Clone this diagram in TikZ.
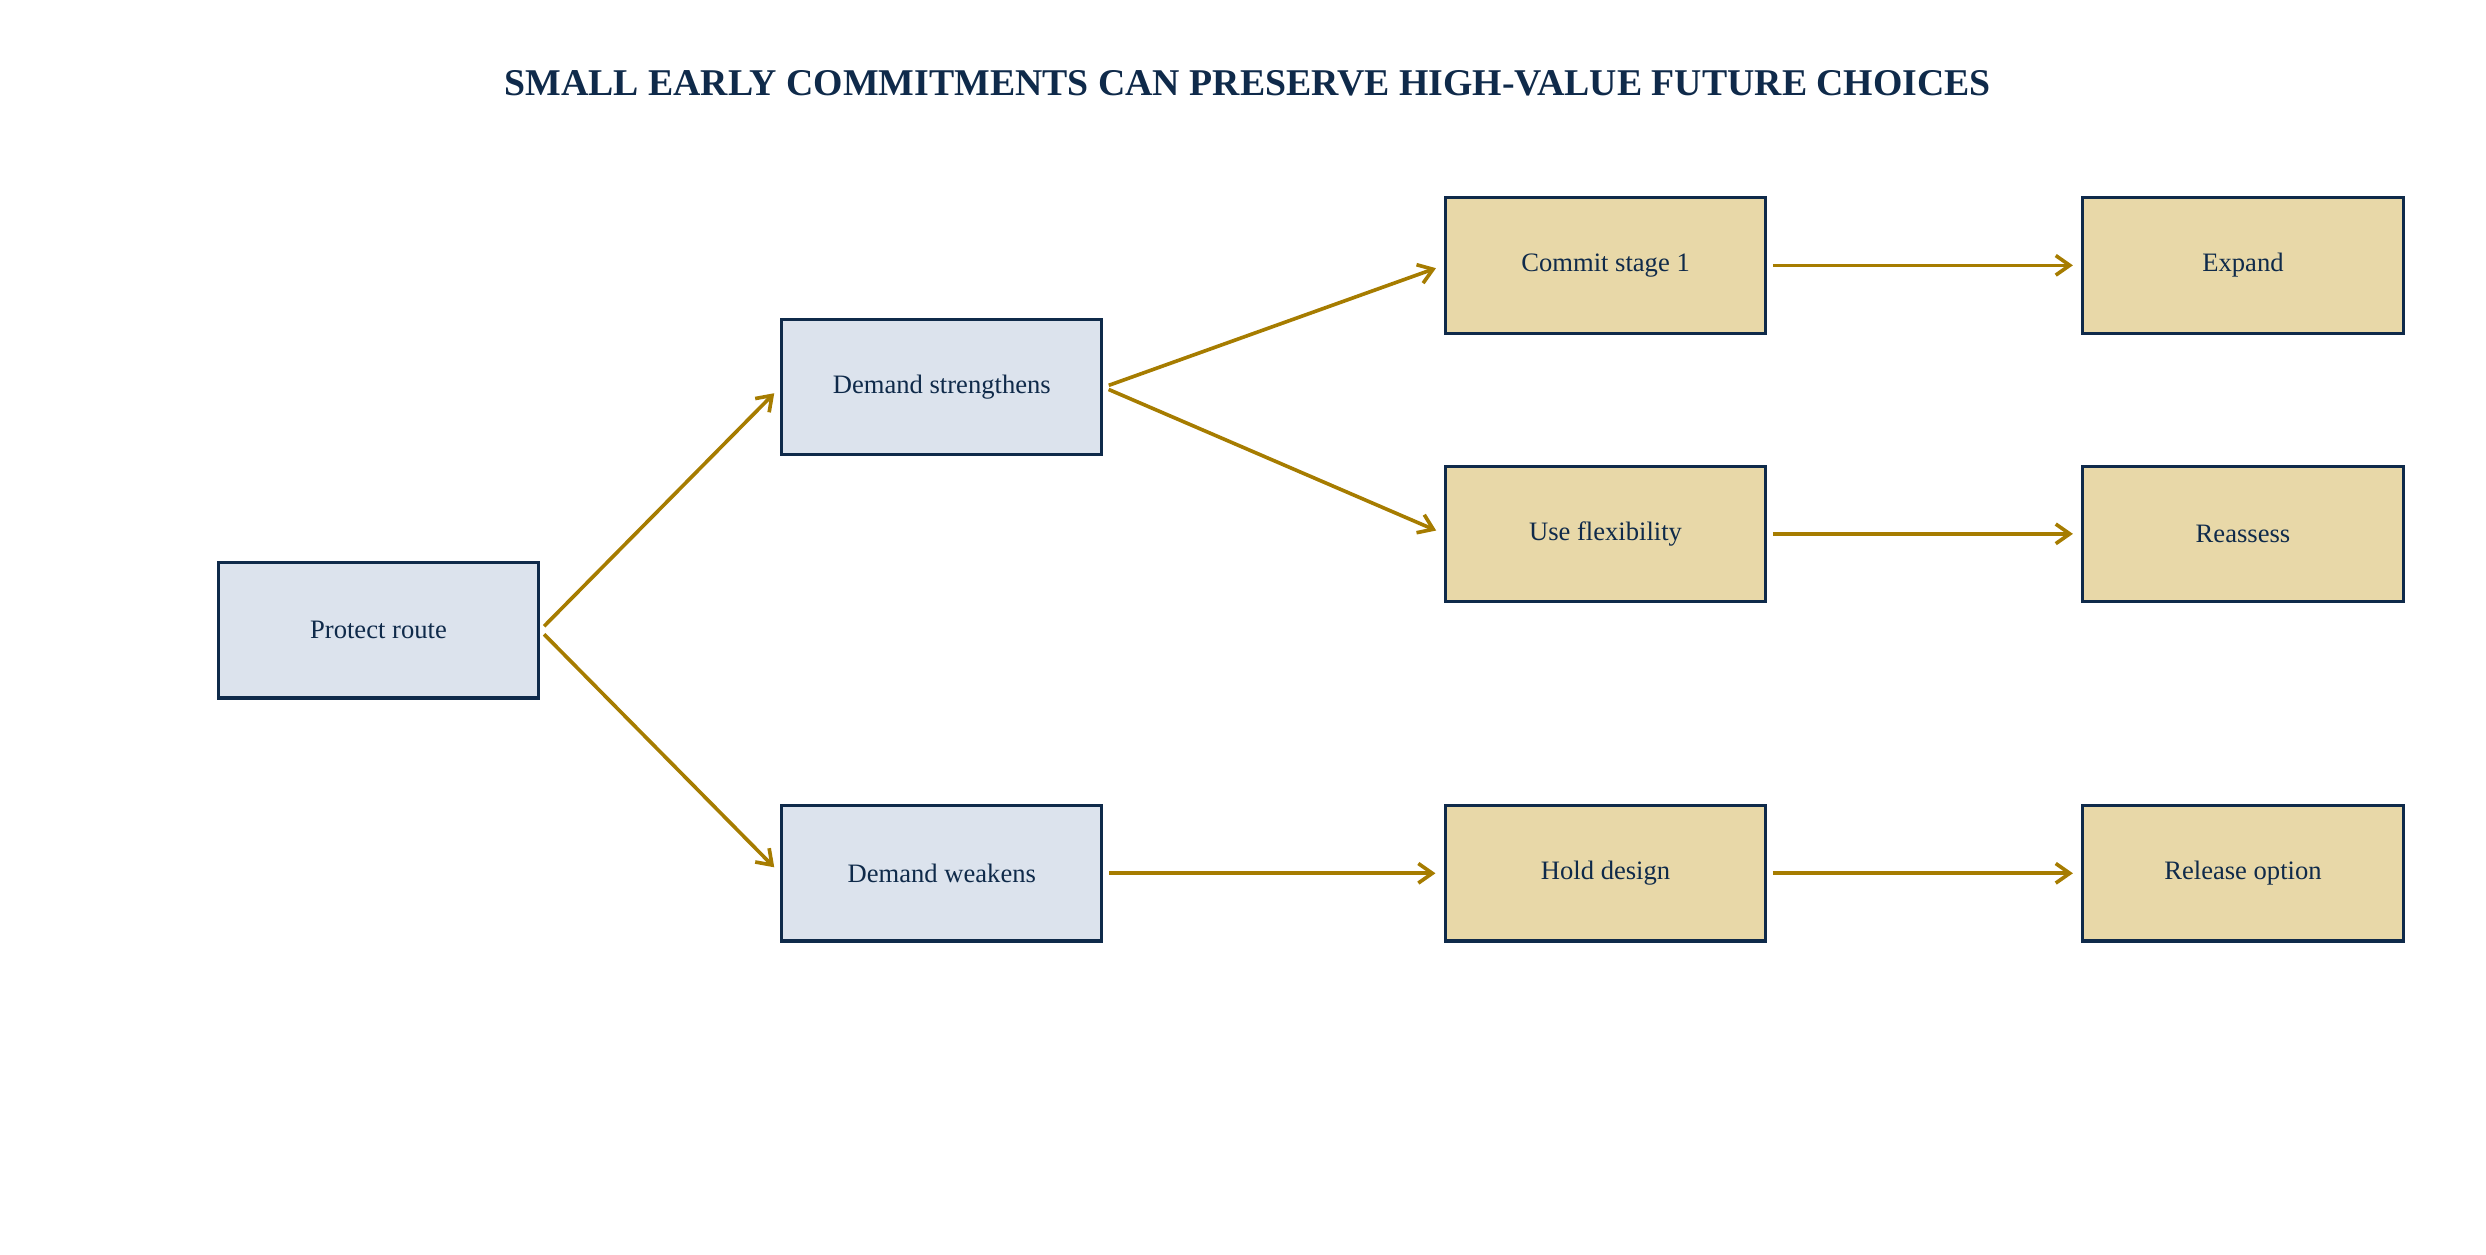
\documentclass[tikz,border=0pt]{standalone}
\usepackage{fontspec}
\setmainfont{Liberation Serif}
\usetikzlibrary{arrows.meta}
\definecolor{navy}{HTML}{0F2A4A}
\definecolor{bluefill}{HTML}{DCE3ED}
\definecolor{tanfill}{HTML}{E8D8A8}
\definecolor{gold}{HTML}{A67C00}
\begin{document}
\begin{tikzpicture}[x=0.02cm,y=-0.02cm,
  box/.style={draw=navy,line width=1.1pt,minimum width=4.02cm,minimum height=1.7cm,inner sep=0pt,text=navy,font=\fontsize{9.5}{11}\selectfont},
  st/.style={box,fill=bluefill},
  op/.style={box,fill=tanfill},
  arr/.style={draw=gold,line width=1.3pt,-{Straight Barb[length=5pt,width=7pt]},shorten >=3pt,shorten <=2pt}]
\useasboundingbox (0,0) rectangle (1560,787);
\node[font=\bfseries\fontsize{13.5}{16}\selectfont,text=navy] (title) at (783,52) {SMALL EARLY COMMITMENTS CAN PRESERVE HIGH-VALUE FUTURE CHOICES};
\node[st] (pr) at (237.5,395.5) {Protect route};
\node[st] (ds) at (591,243) {Demand strengthens};
\node[st] (dw) at (591,548) {Demand weakens};
\node[op] (cs) at (1007.5,166.5) {Commit stage 1};
\node[op] (uf) at (1007.5,335) {Use flexibility};
\node[op] (hd) at (1007.5,548) {Hold design};
\node[op] (ex) at (1407.5,166.5) {Expand};
\node[op] (re) at (1407.5,335) {Reassess};
\node[op] (ro) at (1407.5,548) {Release option};
\draw[arr] (pr.east) -- (ds.west);
\draw[arr] (pr.east) -- (dw.west);
\draw[arr] (ds.east) -- (cs.west);
\draw[arr] (ds.east) -- (uf.west);
\draw[arr] (dw.east) -- (hd.west);
\draw[arr] (cs.east) -- (ex.west);
\draw[arr] (uf.east) -- (re.west);
\draw[arr] (hd.east) -- (ro.west);
\end{tikzpicture}
\end{document}
